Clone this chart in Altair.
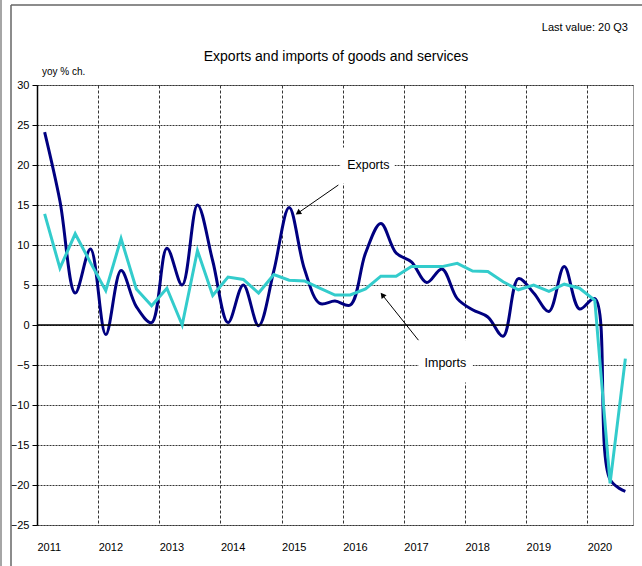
import altair as alt
import pandas as pd

FONT = "Liberation Sans, Arial, sans-serif"

years = list(range(2011, 2021))
quarters = [f"{y} Q{q}" for y in years for q in range(1, 5)][:39]

exports = [24.1, 15.5, 4.0, 9.5, -1.2, 6.8, 2.3, 0.3, 9.6, 5.0,
           15.0, 8.0, 0.3, 5.0, -0.1, 6.8, 14.7, 7.0, 2.7, 3.0,
           2.5, 9.0, 12.7, 9.0, 7.9, 5.3, 7.0, 3.3, 1.9, 1.0,
           -1.4, 5.8, 4.0, 1.7, 7.3, 2.0, 3.3, -19.3, -20.8]
imports = [13.9, 7.1, 11.4, 7.8, 4.3, 10.8, 4.5, 2.4, 4.6, 0.0,
           9.3, 3.7, 6.0, 5.7, 4.0, 6.3, 5.6, 5.5, 4.6, 3.75,
           3.75, 4.5, 6.1, 6.1, 7.3, 7.3, 7.3, 7.7, 6.75, 6.7,
           5.4, 4.4, 5.0, 4.2, 5.1, 4.6, 3.1, -19.8, -4.2]

y_ticks = list(range(-25, 31, 5))

title_text = "Exports and imports of goods and services"
subtitle_text = "Last value: 20 Q3"
unit_text = "yoy % ch."

# annotation label anchors (data coords) and arrows (tail -> head)
ann_labels = ["Exports", "Imports"]
ann_x = [2016.42, 2017.68]
ann_y = [20.0, -4.75]
box_x1 = [2015.96, 2017.24]
box_x2 = [2016.85, 2018.13]
box_y1 = [22.2, -1.9]
box_y2 = [17.7, -7.2]
arrow_tail_x = [2015.93, 2017.24]
arrow_tail_y = [17.5, -1.9]
arrow_head_x = [2015.27, 2016.65]
arrow_head_y = [14.0, 3.75]
arrow_angle = [236, 321]

tpos = [int(q[:4]) + (int(q[-1]) - 0.5) / 4 for q in quarters]
exp_df = pd.DataFrame({"t": tpos, "v": exports, "quarter": quarters})
imp_df = pd.DataFrame({"t": tpos, "v": imports, "quarter": quarters})
ann_df = pd.DataFrame({"label": ann_labels, "t": ann_x, "v": ann_y})
box_df = pd.DataFrame({"t": box_x1, "t2": box_x2, "v": box_y1, "v2": box_y2})
arr_df = pd.DataFrame({"t": arrow_tail_x, "v": arrow_tail_y,
                       "t2": arrow_head_x, "v2": arrow_head_y})
head_df = pd.DataFrame({"t": arrow_head_x, "v": arrow_head_y, "a": arrow_angle})
zero_df = pd.DataFrame({"v": [0]})

xscale = alt.Scale(domain=[2011, 2020.75], nice=False, zero=False)
yscale = alt.Scale(domain=[-25, 30], nice=False, zero=False)

x_enc = alt.X("t:Q", scale=xscale, axis=alt.Axis(
    values=years, tickCount=len(years), format="d", title=None, grid=True,
    gridDash=[3, 2], gridColor="#333333", gridWidth=1, domain=False, ticks=False,
    labelAlign="left", labelPadding=16, labelFlush=False,
    labelOverlap=False, labelFont=FONT, labelFontSize=11, labelColor="black"))
y_enc = alt.Y("v:Q", scale=yscale, axis=alt.Axis(
    values=y_ticks, tickCount=len(y_ticks), title=None, grid=True, gridDash=[2, 1],
    gridColor="#333333", gridWidth=1, domainColor="black", domainWidth=1.5,
    tickColor="black", tickSize=5, labelPadding=3, labelFont=FONT,
    labelFontSize=11, labelColor="black", labelOverlap=False))

exp_line = alt.Chart(exp_df).mark_line(
    color="#000080", strokeWidth=3, interpolate="catmull-rom"
).encode(x=x_enc, y=y_enc)

imp_line = alt.Chart(imp_df).mark_line(
    color="#33CCCC", strokeWidth=3
).encode(x="t:Q", y="v:Q")

zero_rule = alt.Chart(zero_df).mark_rule(color="black", strokeWidth=1.5).encode(y="v:Q")

boxes = alt.Chart(box_df).mark_rect(color="white").encode(
    x="t:Q", x2="t2", y="v:Q", y2="v2")

arrows = alt.Chart(arr_df).mark_rule(color="black", strokeWidth=1).encode(
    x="t:Q", y="v:Q", x2="t2", y2="v2")

heads = alt.Chart(head_df).mark_point(
    shape="triangle-up", filled=True, color="black", size=40, opacity=1
).encode(x="t:Q", y="v:Q", angle=alt.Angle("a:Q", scale=None))

ann_text = alt.Chart(ann_df).mark_text(
    font=FONT, fontSize=12.5, color="black", align="center", baseline="middle"
).encode(x="t:Q", y="v:Q", text="label:N")

def label(txt, x, y, size, align):
    return alt.Chart(pd.DataFrame({"label": [txt]})).mark_text(
        font=FONT, fontSize=size, color="black", align=align, baseline="middle"
    ).encode(x=alt.value(x), y=alt.value(y), text="label:N")

title_mark = label(title_text, 299, -28, 14, "center")
sub_mark = label(subtitle_text, 591, -57, 11, "right")
unit_mark = label(unit_text, 5, -13, 10, "left")

one = pd.DataFrame({"k": [0]})
frame_top = alt.Chart(one).mark_rule(color="#666666", strokeWidth=1.5).encode(
    x=alt.value(-26), x2=alt.value(610), y=alt.value(-80), y2=alt.value(-80))
frame_left = alt.Chart(one).mark_rule(color="#666666", strokeWidth=1.5).encode(
    x=alt.value(-26), x2=alt.value(-26), y=alt.value(-80), y2=alt.value(490))
frame_outer = alt.Chart(one).mark_rule(color="#888888", strokeWidth=1.5).encode(
    x=alt.value(-36), x2=alt.value(-36), y=alt.value(-90), y2=alt.value(490))

chart = alt.layer(
    exp_line, zero_rule, boxes, imp_line, arrows, heads, ann_text,
    title_mark, sub_mark, unit_mark, frame_top, frame_left, frame_outer
).properties(
    width=596, height=440,
    autosize=alt.AutoSizeParams(type="none"),
    padding={"left": 37, "top": 85, "right": 9, "bottom": 41},
    background="white"
).configure_view(stroke="#999999", strokeWidth=1)

chart.save("out.html", embed_options={"renderer": "svg", "actions": False})
